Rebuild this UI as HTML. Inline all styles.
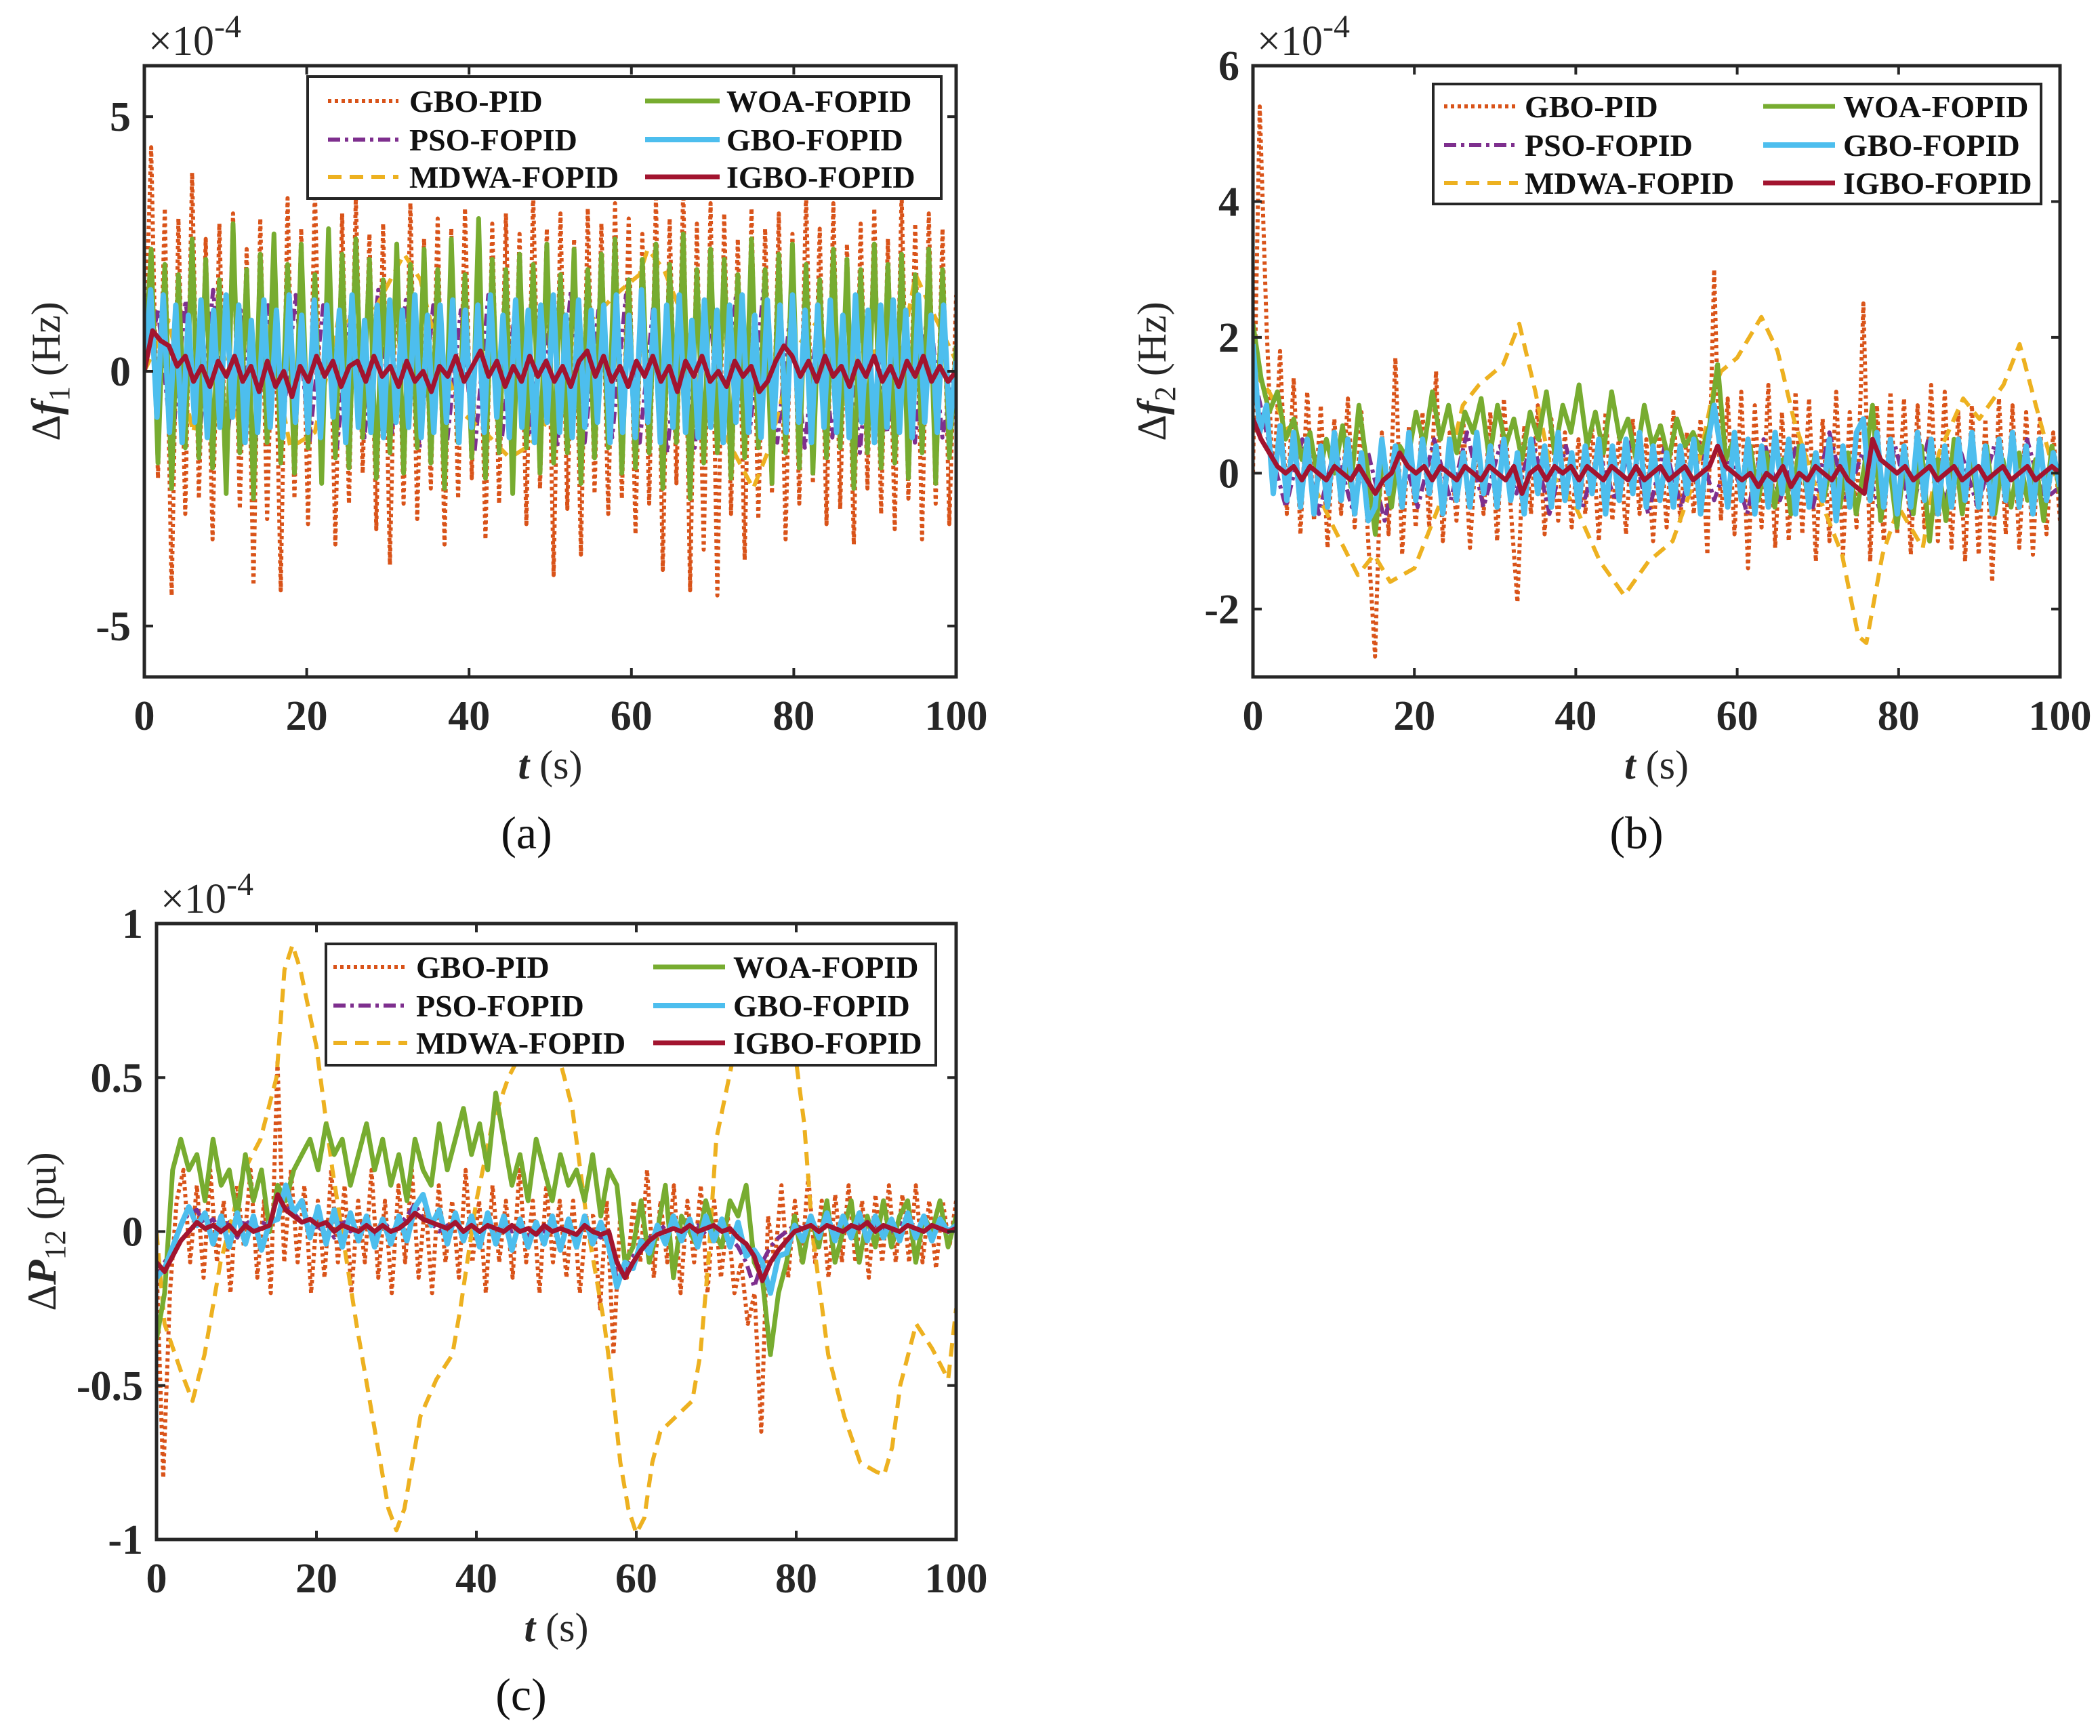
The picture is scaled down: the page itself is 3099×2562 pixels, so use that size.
<!DOCTYPE html>
<html><head><meta charset="utf-8"><style>
html,body{margin:0;padding:0;background:#fff;}
svg{display:block;}
</style></head><body>
<svg id="fig" xmlns="http://www.w3.org/2000/svg" width="3099" height="2562" viewBox="0 0 3099 2562"></svg>
<script>
// ---------- Panel (a) data: delta f1 (x1e-4 Hz) ----------
const aGboPid=[0,4.4,-2.1,3.2,-4.4,3.0,-2.8,3.9,-2.5,2.6,-3.3,2.9,-2.2,3.1,-2.7,2.4,-4.2,3.0,-2.9,2.2,-4.3,3.4,-2.5,2.8,-3.0,3.6,-2.2,2.5,-3.4,3.1,-2.6,3.4,-2.0,2.7,-3.1,2.9,-3.8,2.4,-2.6,3.3,-2.9,2.6,-2.3,3.0,-3.4,2.8,-2.5,3.2,-2.1,2.5,-3.3,2.9,-2.6,3.1,-2.4,2.7,-3.0,3.5,-2.3,2.8,-4.0,3.1,-2.7,2.6,-3.6,3.2,-2.4,2.9,-2.8,3.3,-2.5,3.0,-3.2,2.7,-2.6,3.4,-3.9,3.0,-2.2,3.6,-4.3,2.9,-3.5,3.3,-4.4,3.1,-2.8,2.6,-3.7,3.2,-2.9,2.8,-2.4,3.1,-3.3,2.7,-2.6,3.5,-2.2,2.8,-3.0,3.3,-2.7,2.5,-3.4,2.9,-2.3,3.2,-2.8,2.6,-3.1,3.5,-2.5,2.9,-3.3,3.1,-2.6,2.8,-3.0,1.5];
const aPso=[0,1.2,-1.5,1.4,-1.3,1.6,-1.4,1.2,-1.6,1.3,-1.2,1.5,-1.4,1.3,-1.5,1.2,-1.3,1.6,-1.2,1.4,-1.5,1.3,-1.4,1.2,-1.6,1.5,-1.3,1.4,-1.2,1.3,-1.5,1.6,-1.4,1.2,-1.3,1.5,-1.4,1.3,-1.6,1.2,-1.5,1.4,-1.3,1.5,-1.2,1.6,-1.4,1.3,-1.5,1.2,-1.3,1.4,-1.6,1.5,-1.2,1.3,-1.4,1.5,-1.3,0.2];
const aMdwaT=[0,3,6,9,12,15,18,21,24,27,30,32,34,36,39,42,45,47,49,52,55,58,61,62,64,66,69,72,74,75,77,80,83,86,89,92,95,97,100];
const aMdwa=[0,1.0,-1.2,0.9,-1.3,1.0,-1.5,-1.2,1.1,0.8,1.7,2.3,1.8,0.5,-0.8,-1.2,-1.7,-1.5,-1.2,0.3,1.0,1.5,1.9,2.4,2.0,1.2,-0.6,-1.4,-2.0,-2.3,-1.5,0.4,1.0,-0.8,0.9,-0.7,1.9,1.2,0.2];
const aWoa=[0,2.4,-1.8,2.1,-2.3,1.9,-1.5,2.6,-1.7,2.2,-1.9,1.8,-2.4,2.9,-1.6,2.0,-2.5,2.3,-1.4,2.7,-1.8,2.1,-2.0,2.5,-1.5,1.9,-2.2,2.8,-1.7,2.3,-1.9,2.6,-1.3,2.2,-2.1,1.8,-1.6,2.5,-2.0,2.1,-1.5,2.4,-1.8,2.0,-2.3,2.6,-1.4,1.9,-1.7,3.0,-2.1,2.2,-1.6,2.0,-2.4,2.3,-1.5,2.1,-2.0,2.5,-1.8,1.9,-1.6,2.4,-2.2,2.0,-1.7,2.3,-1.5,2.6,-2.0,1.8,-1.9,2.2,-1.6,2.5,-2.3,2.1,-1.4,2.7,-2.5,2.0,-1.8,2.4,-1.6,2.2,-2.1,1.9,-1.7,2.6,-1.5,2.0,-2.2,2.3,-1.6,2.5,-1.9,2.1,-2.0,1.8,-1.7,2.4,-1.5,2.2,-2.3,2.0,-1.6,2.5,-1.9,2.1,-1.8,2.3,-2.1,1.9,-1.6,2.4,-2.2,2.0,-1.7,0.5];
const aGbo=[0,1.6,-0.9,1.5,-1.2,1.3,-1.4,1.1,-1.0,1.4,-1.3,1.2,-1.1,1.5,-0.9,1.3,-1.4,1.0,-1.2,1.4,-1.1,1.2,-1.3,1.5,-1.0,1.1,-1.2,1.4,-1.3,1.3,-0.9,1.2,-1.4,1.5,-1.1,1.0,-1.2,1.3,-1.3,1.4,-1.0,1.2,-1.1,1.5,-1.3,1.1,-1.2,1.3,-1.0,1.4,-1.4,1.2,-1.1,1.3,-1.2,1.5,-0.9,1.1,-1.3,1.4,-1.1,1.2,-1.4,1.3,-1.0,1.5,-1.2,1.1,-1.3,1.4,-1.1,1.2,-1.0,1.3,-1.4,1.5,-1.2,1.1,-1.3,1.6,-1.0,1.2,-1.4,1.3,-1.1,1.5,-1.2,1.0,-1.3,1.4,-1.1,1.2,-1.4,1.3,-1.0,1.5,-1.2,1.1,-1.3,1.4,-1.1,1.3,-1.2,1.5,-1.0,1.2,-1.4,1.3,-1.1,1.4,-1.2,1.1,-1.3,1.5,-1.0,1.2,-1.4,1.3,-1.1,1.4,-1.2,1.2,-1.3,1.5,-1.0,1.1,-1.2,1.3,-1.1,0.2];
const aIgbo=[0,0.8,0.6,0.5,0.1,0.3,-0.2,0.1,-0.3,0.2,-0.1,0.3,-0.2,0.1,-0.4,0.2,-0.3,0.0,-0.5,0.1,-0.2,0.3,-0.1,0.2,-0.3,0.1,0.2,-0.2,0.3,-0.1,0.1,-0.3,0.2,-0.2,0.0,-0.4,0.1,-0.1,0.3,-0.2,0.1,0.4,-0.1,0.2,-0.3,0.1,-0.2,0.3,-0.1,0.2,-0.2,0.1,-0.3,0.2,0.4,-0.1,0.3,-0.2,0.1,-0.3,0.2,-0.1,0.3,-0.2,0.1,-0.4,0.2,-0.1,0.3,-0.2,0.0,-0.3,0.2,-0.1,0.1,-0.4,-0.2,0.2,0.5,0.3,-0.1,0.2,-0.2,0.3,-0.1,0.1,-0.3,0.2,-0.1,0.3,-0.2,0.1,-0.3,0.2,-0.1,0.3,-0.2,0.1,-0.2,0.0];

// ---------- Panel (b) data: delta f2 (x1e-4 Hz) ----------
const bGboPid=[0,5.4,2.2,-0.3,1.8,-0.6,1.4,-0.9,1.2,-0.7,1.0,-1.1,0.8,-0.6,1.1,-0.8,0.9,-1.0,-2.7,0.6,-0.9,1.7,-1.2,0.7,-0.8,0.9,-0.8,1.5,-1.0,0.6,-0.7,0.8,-1.1,0.5,-0.6,0.9,-1.0,1.1,-0.5,-1.9,0.7,-0.6,1.0,-0.9,0.8,-0.7,0.6,-0.8,0.5,-0.6,0.7,-1.0,0.9,-0.7,0.6,-0.9,0.8,-0.6,0.5,-1.0,0.7,-0.8,0.9,-0.7,0.6,-0.6,0.8,-1.2,3.0,-0.7,1.1,-0.9,1.2,-1.4,1.0,-0.8,1.3,-1.1,0.9,-1.0,1.2,-0.9,1.1,-1.3,0.8,-1.0,1.2,-1.2,0.9,-0.8,2.5,-1.3,1.0,-1.0,1.2,-0.9,1.1,-1.2,1.0,-0.8,1.3,-1.0,1.2,-1.1,0.9,-1.3,1.0,-1.2,0.8,-1.6,1.1,-0.9,1.0,-1.1,0.9,-1.2,0.8,-0.9,0.6,-0.7];
const bPso=[1.5,0.4,-0.5,0.5,-0.6,0.4,-0.5,0.3,-0.7,0.4,-0.5,0.5,-0.4,0.6,-0.5,0.4,-0.3,0.5,-0.6,0.4,-0.5,0.3,-0.4,0.5,-0.6,0.4,-0.5,0.5,-0.4,0.3,-0.6,0.5,-0.4,0.4,-0.5,0.6,-0.4,0.3,-0.5,0.4,-0.6,0.5,-0.4,0.3,-0.5,0.4,-0.5,0.5,-0.4,-0.2];
const bMdwaT=[0,2,5,8,10,13,15,17,20,23,26,28,30,31,33,35,37,40,43,46,49,52,55,57,58,60,63,65,67,70,73,75,76,78,80,83,85,88,90,93,95,97,100];
const bMdwa=[1.5,1.2,0.5,-0.3,-0.8,-1.5,-1.2,-1.6,-1.4,-0.5,1.0,1.3,1.5,1.6,2.2,1.2,0.0,-0.5,-1.3,-1.8,-1.3,-1.0,0.0,1.2,1.5,1.7,2.3,1.8,0.8,-0.3,-1.2,-2.4,-2.5,-1.2,-0.5,-1.1,0.3,1.1,0.8,1.3,1.9,1.0,-0.3];
const bWoa=[2.2,1.4,0.9,1.2,0.5,0.8,0.2,0.6,-0.1,0.5,0.0,0.7,-0.2,1.0,0.1,-0.9,0.3,-0.5,0.4,0.2,0.9,0.4,1.2,0.5,1.0,0.3,0.9,0.6,1.1,0.2,1.0,0.4,0.8,0.2,0.9,0.5,1.2,0.3,1.0,0.6,1.3,0.4,0.9,0.3,1.2,0.5,0.8,0.2,1.0,0.4,0.7,0.2,0.8,0.4,0.6,0.3,0.7,1.6,0.2,0.5,-0.3,0.4,-0.4,0.3,-0.5,0.2,-0.6,0.4,-0.3,0.3,-0.4,0.2,-0.5,0.3,-0.6,0.1,1.0,-0.7,0.2,-0.8,0.3,-0.6,0.4,-1.0,0.2,-0.7,0.5,-0.6,0.3,-0.5,0.4,-0.6,0.2,-0.5,0.3,-0.4,0.2,-0.7,0.4,-0.3];
const bGbo=[1.9,0.6,1.0,-0.3,0.7,-0.4,0.6,-0.5,0.5,-0.6,0.4,-0.5,0.6,-0.4,0.5,-0.6,0.3,-0.7,-0.5,0.5,-0.3,0.4,-0.5,0.6,-0.4,0.5,-0.3,0.4,-0.6,0.5,-0.4,0.3,-0.5,0.6,-0.3,0.4,-0.5,0.5,-0.4,0.3,-0.6,0.5,-0.3,0.4,-0.5,0.6,-0.4,0.3,-0.5,0.4,-0.3,0.5,-0.6,0.4,-0.4,0.5,-0.3,0.6,-0.5,0.4,-0.4,0.3,-0.5,0.4,-0.3,0.5,-0.6,0.4,1.0,0.3,-0.5,0.6,-0.4,0.5,-0.6,0.4,-0.5,0.6,-0.3,0.5,-0.6,0.4,-0.5,0.3,-0.4,0.5,-0.7,0.4,-0.5,0.6,0.8,-0.4,0.6,-0.5,0.5,-0.6,0.4,-0.5,0.6,-0.4,0.5,-0.6,0.4,-0.5,0.5,-0.4,0.6,-0.5,0.4,-0.6,0.5,-0.4,0.6,-0.5,0.4,-0.6,0.5,-0.4,0.3,-0.2];
const bIgbo=[0.8,0.5,0.3,0.1,0.0,0.1,-0.1,0.1,0.0,-0.1,0.1,0.0,-0.1,0.1,-0.1,-0.3,-0.1,0.0,0.3,0.1,0.0,0.1,-0.1,0.1,0.0,-0.1,0.1,0.0,-0.1,0.1,0.0,-0.1,0.1,-0.3,0.0,0.1,-0.1,0.1,0.0,0.1,-0.1,0.1,0.0,-0.1,0.1,0.0,-0.1,0.1,-0.1,0.0,0.1,-0.1,0.0,0.1,-0.1,0.0,0.1,0.4,0.1,0.0,-0.1,0.0,-0.2,0.0,-0.1,0.1,-0.2,0.0,-0.1,0.1,0.0,-0.1,0.1,-0.1,-0.2,-0.3,0.5,0.2,0.1,0.0,0.1,-0.1,0.0,0.1,-0.1,0.0,0.1,-0.1,0.0,0.1,-0.1,0.0,0.1,-0.1,0.0,0.1,-0.1,0.0,0.1,0.0];

// ---------- Panel (c) data: delta P12 (x1e-4 pu) ----------
const cGboPid=[-0.1,-0.8,-0.2,0.1,0.2,-0.1,0.15,-0.15,0.2,-0.1,0.1,-0.2,0.15,-0.05,0.2,-0.15,0.1,-0.2,0.55,-0.1,0.2,-0.1,0.15,-0.2,0.1,-0.15,0.2,-0.1,0.15,-0.2,0.1,-0.1,0.2,-0.15,0.1,-0.2,0.15,-0.1,0.2,-0.15,0.1,-0.2,0.15,-0.1,0.1,-0.15,0.2,-0.1,0.1,-0.2,0.15,-0.1,0.1,-0.15,0.2,-0.1,0.1,-0.2,0.15,-0.1,0.1,-0.15,0.1,-0.2,0.05,0.05,-0.25,0.1,-0.4,0.05,-0.15,0.1,-0.1,0.2,-0.15,0.1,-0.1,0.15,-0.2,0.1,-0.1,0.15,-0.2,0.1,-0.15,0.05,-0.2,-0.1,-0.3,-0.2,-0.65,0.05,-0.1,0.15,-0.15,0.1,-0.1,0.18,-0.1,0.1,-0.15,0.12,-0.1,0.15,-0.1,0.1,-0.15,0.12,-0.1,0.15,-0.1,0.12,-0.1,0.15,-0.1,0.1,-0.12,0.1,-0.05,0.1];
const cPso=[-0.15,-0.1,-0.05,0.02,0.06,0.07,0.02,0.04,0.0,0.03,-0.02,0.04,0.0,0.03,0.02,0.14,0.09,0.06,0.03,0.05,0.0,0.03,-0.02,0.04,0.0,0.02,0.03,-0.02,0.04,0.0,0.02,0.05,0.09,0.04,0.03,0.0,0.02,0.03,-0.01,0.02,0.0,0.02,-0.02,0.03,0.0,0.01,-0.02,0.02,0.0,-0.01,0.01,0.0,-0.02,0.02,0.0,-0.02,0.0,-0.16,-0.12,-0.08,-0.05,-0.02,0.0,0.02,0.0,0.01,0.0,0.02,-0.01,0.01,0.0,-0.02,-0.05,-0.1,-0.18,-0.1,-0.05,-0.02,0.0,0.02,0.01,0.03,0.0,0.02,0.0,0.02,0.01,0.03,0.0,0.02,0.01,0.0,0.03,0.01,0.02,0.0,0.02,0.01,0.0,0.01];
const cMdwaT=[0,1,3,4.5,6,8,11,13,15,16,17,18,20,22,25,27,29,30,31,33,35,37,38,40,42,44,46,48,50,52,54,56,57,58,59,60,61,62,63,65,67,68,69,70,72,74,76,78,80,81,82,84,86,88,90,91,92,93,95,97,99,100];
const cMdwa=[0,-0.3,-0.45,-0.55,-0.4,-0.1,0.2,0.3,0.5,0.85,0.93,0.85,0.6,0.2,-0.3,-0.6,-0.9,-0.97,-0.9,-0.6,-0.48,-0.4,-0.25,0.1,0.35,0.5,0.6,0.62,0.6,0.4,0.0,-0.3,-0.5,-0.75,-0.9,-0.98,-0.93,-0.75,-0.65,-0.6,-0.55,-0.4,-0.1,0.3,0.55,0.6,0.6,0.58,0.55,0.35,0.0,-0.4,-0.6,-0.75,-0.78,-0.79,-0.7,-0.5,-0.3,-0.38,-0.48,-0.25];
const cWoa=[-0.35,-0.2,0.2,0.3,0.2,0.25,0.1,0.3,0.15,0.2,0.05,0.25,0.1,0.2,0.0,0.15,0.1,0.2,0.25,0.3,0.2,0.35,0.25,0.3,0.15,0.25,0.35,0.2,0.3,0.15,0.25,0.1,0.3,0.2,0.15,0.35,0.2,0.3,0.4,0.25,0.35,0.2,0.45,0.3,0.15,0.25,0.1,0.3,0.2,0.1,0.25,0.15,0.2,0.1,0.25,0.05,0.2,0.15,-0.1,-0.05,0.1,-0.1,0.0,0.15,-0.15,0.05,0.0,-0.05,0.1,0.0,-0.05,0.1,0.05,0.15,-0.1,-0.15,-0.4,-0.2,-0.1,0.05,-0.1,0.05,-0.05,0.1,-0.1,0.0,0.1,-0.1,0.05,-0.05,0.1,-0.05,0.05,0.1,-0.1,0.05,0.0,0.1,-0.05,0.05];
const cGbo=[-0.15,-0.12,-0.05,0.02,0.08,0.02,0.06,-0.04,0.05,-0.05,0.06,-0.04,0.05,-0.06,0.03,0.04,0.15,0.06,0.1,-0.02,0.08,-0.04,0.07,-0.05,0.06,-0.03,0.05,-0.05,0.04,-0.04,0.05,-0.03,0.08,0.12,0.02,0.07,-0.04,0.06,-0.03,0.05,-0.05,0.06,-0.04,0.05,-0.06,0.04,-0.05,0.03,-0.04,0.05,-0.06,0.04,-0.05,0.05,-0.04,0.03,-0.05,-0.18,-0.1,-0.12,-0.03,-0.07,0.02,-0.04,0.05,-0.03,0.04,-0.05,0.05,-0.03,0.04,-0.05,0.03,-0.08,-0.06,-0.1,-0.2,-0.08,-0.07,0.02,-0.03,0.05,-0.02,0.06,-0.03,0.05,-0.02,0.06,-0.03,0.05,-0.02,0.04,-0.03,0.06,-0.02,0.05,-0.03,0.04,0.0,0.02];
const cIgbo=[-0.1,-0.13,-0.08,-0.03,0.0,0.03,0.01,0.02,0.0,0.02,-0.01,0.02,0.0,0.01,0.02,0.12,0.07,0.05,0.03,0.04,0.02,0.03,0.0,0.02,0.01,0.0,0.02,0.0,0.02,0.0,0.01,0.03,0.06,0.04,0.03,0.02,0.01,0.03,0.0,0.02,0.0,0.02,0.01,0.0,0.02,0.0,0.01,-0.01,0.02,0.0,0.01,0.0,-0.01,0.02,0.0,-0.01,0.0,-0.1,-0.15,-0.1,-0.06,-0.03,-0.01,0.0,0.01,0.0,0.02,0.0,0.01,0.02,0.0,0.01,-0.02,-0.04,-0.08,-0.16,-0.1,-0.06,-0.03,0.0,0.01,0.02,0.0,0.02,0.01,0.0,0.02,0.01,0.03,0.0,0.02,0.01,0.0,0.02,0.01,0.0,0.02,0.01,0.0,0.01];

// ---------- rendering ----------
const NS="http://www.w3.org/2000/svg";
const svg=document.getElementById('fig');
function mk(tag,attrs,parent){const e=document.createElementNS(NS,tag);for(const k in attrs)e.setAttribute(k,attrs[k]);(parent||svg).appendChild(e);return e;}
const COL={gbopid:'#D95319',pso:'#7E2F8E',mdwa:'#EDB120',woa:'#77AC30',gbo:'#4DBEEE',igbo:'#A2142F'};
const STY={gbopid:{w:6,d:'5 5'},pso:{w:6,d:'18 7 5 7'},mdwa:{w:6,d:'20 12'},woa:{w:7,d:''},gbo:{w:8,d:''},igbo:{w:7,d:''}};
const LABELS={gbopid:'GBO-PID',pso:'PSO-FOPID',mdwa:'MDWA-FOPID',woa:'WOA-FOPID',gbo:'GBO-FOPID',igbo:'IGBO-FOPID'};

function panel(id,ax,yTicks,yTickLabels,series,leg,ylab,caption){
  const g=mk('g',{});
  
  
  const sx=t=>ax.x0+(t/100)*(ax.x1-ax.x0);
  const sy=v=>ax.y1-(v-ax.ymin)/(ax.ymax-ax.ymin)*(ax.y1-ax.y0);
  const cp=mk('clipPath',{id:'clip-'+id},g);
  mk('rect',{x:ax.x0,y:ax.y0,width:ax.x1-ax.x0,height:ax.y1-ax.y0},cp);
  const plot=mk('g',{'clip-path':'url(#clip-'+id+')'},g);
  
  
  series.forEach(s=>{
    const n=s.v.length;
    const pts=s.v.map((v,i)=>{const t=s.t?s.t[i]:i*100/(n-1);return sx(t).toFixed(1)+','+sy(v).toFixed(1);}).join(' ');
    const pl=mk('polyline',{points:pts,fill:'none',stroke:COL[s.k],'stroke-width':STY[s.k].w,'stroke-dasharray':STY[s.k].d,'stroke-linejoin':'round'},plot);
    
    
  });
  const box=mk('rect',{x:ax.x0,y:ax.y0,width:ax.x1-ax.x0,height:ax.y1-ax.y0,fill:'none',stroke:'#262626','stroke-width':5},g);
  
  
  const xt=[0,20,40,60,80,100];
  xt.forEach(t=>{
    const x=sx(t);
    mk('line',{x1:x,y1:ax.y1,x2:x,y2:ax.y1-13,stroke:'#262626','stroke-width':4},g);
    mk('line',{x1:x,y1:ax.y0,x2:x,y2:ax.y0+13,stroke:'#262626','stroke-width':4},g);
    const tx=mk('text',{x:x,y:ax.y1+78,'text-anchor':'middle','font-family':'Liberation Serif, serif','font-weight':'bold','font-size':62,fill:'#262626'},g);
    tx.textContent=String(t);
    
    
  });
  yTicks.forEach((v,i)=>{
    const y=sy(v);
    mk('line',{x1:ax.x0,y1:y,x2:ax.x0+13,y2:y,stroke:'#262626','stroke-width':4},g);
    mk('line',{x1:ax.x1,y1:y,x2:ax.x1-13,y2:y,stroke:'#262626','stroke-width':4},g);
    const ty=mk('text',{x:ax.x0-20,y:y+21,'text-anchor':'end','font-family':'Liberation Serif, serif','font-weight':'bold','font-size':62,fill:'#262626'},g);
    ty.textContent=yTickLabels[i];
    
    
  });
  const ex=mk('text',{x:ax.x0+6,y:ax.y0-16,'font-family':'Liberation Serif, serif','font-size':62,fill:'#262626'},g);
  ex.innerHTML='×10<tspan dy="-26" font-size="48">-4</tspan>';
  
  
  const xl=mk('text',{x:(ax.x0+ax.x1)/2,y:ax.y1+150,'text-anchor':'middle','font-family':'Liberation Serif, serif','font-size':60,fill:'#262626'},g);
  xl.innerHTML='<tspan font-weight="bold" font-style="italic">t</tspan> (s)';
  
  
  const yc=(ax.y0+ax.y1)/2;
  const yl=mk('text',{x:ylab.x,y:yc,'text-anchor':'middle','font-family':'Liberation Serif, serif','font-size':60,fill:'#262626',transform:'rotate(-90 '+ylab.x+' '+yc+')'},g);
  yl.innerHTML=ylab.html;
  
  
  const cap=mk('text',{x:caption.x,y:caption.y,'text-anchor':'middle','font-family':'Liberation Serif, serif','font-size':68,fill:'#111'},g);
  cap.textContent=caption.t;
  
  
  const lg=mk('g',{},g);
  
  
  mk('rect',{x:leg.x0,y:leg.y0,width:leg.x1-leg.x0,height:leg.y1-leg.y0,fill:'#fff',stroke:'#262626','stroke-width':4},lg);
  const order=[['gbopid','pso','mdwa'],['woa','gbo','igbo']];
  order.forEach((col,ci)=>col.forEach((k,ri)=>{
    const y=leg.rows[ri];
    const lx=leg.cols[ci];
    const e=mk('g',{},lg);
    
    
    mk('line',{x1:lx[0],y1:y,x2:lx[1],y2:y,stroke:COL[k],'stroke-width':STY[k].w,'stroke-dasharray':STY[k].d},e);
    const t=mk('text',{x:lx[2],y:y+16,'font-family':'Liberation Serif, serif','font-weight':'bold','font-size':46,fill:'#111'},e);
    t.textContent=LABELS[k];
  }));
}

panel('a',{x0:213,x1:1411,y0:97,y1:999,ymin:-6,ymax:6},[-5,0,5],['-5','0','5'],
 [{k:'gbopid',v:aGboPid},{k:'pso',v:aPso},{k:'mdwa',t:aMdwaT,v:aMdwa},{k:'woa',v:aWoa},{k:'gbo',v:aGbo},{k:'igbo',v:aIgbo}],
 {x0:454,x1:1389,y0:113,y1:293,rows:[149,206,261],cols:[[484,588,604],[952,1062,1072]]},
 {x:88,html:'Δ<tspan font-weight="bold" font-style="italic">f</tspan><tspan font-size="44" dy="14">1</tspan><tspan dy="-14"> (Hz)</tspan>'},
 {x:777,y:1252,t:'(a)'});

panel('b',{x0:1849,x1:3040,y0:97,y1:999,ymin:-3,ymax:6},[-2,0,2,4,6],['-2','0','2','4','6'],
 [{k:'gbopid',v:bGboPid},{k:'pso',v:bPso},{k:'mdwa',t:bMdwaT,v:bMdwa},{k:'woa',v:bWoa},{k:'gbo',v:bGbo},{k:'igbo',v:bIgbo}],
 {x0:2115,x1:3012,y0:124,y1:301,rows:[157,214,270],cols:[[2131,2240,2250],[2602,2708,2720]]},
 {x:1720,html:'Δ<tspan font-weight="bold" font-style="italic">f</tspan><tspan font-size="44" dy="14">2</tspan><tspan dy="-14"> (Hz)</tspan>'},
 {x:2415,y:1252,t:'(b)'});

panel('c',{x0:231,x1:1411,y0:1363,y1:2272,ymin:-1,ymax:1},[-1,-0.5,0,0.5,1],['-1','-0.5','0','0.5','1'],
 [{k:'gbopid',v:cGboPid},{k:'pso',v:cPso},{k:'mdwa',t:cMdwaT,v:cMdwa},{k:'woa',v:cWoa},{k:'gbo',v:cGbo},{k:'igbo',v:cIgbo}],
 {x0:481,x1:1381,y0:1393,y1:1572,rows:[1427,1484,1539],cols:[[492,601,614],[964,1070,1082]]},
 {x:82,html:'Δ<tspan font-weight="bold" font-style="italic">P</tspan><tspan font-size="44" dy="14">12</tspan><tspan dy="-14"> (pu)</tspan>'},
 {x:769,y:2524,t:'(c)'});
</script>
</body></html>
